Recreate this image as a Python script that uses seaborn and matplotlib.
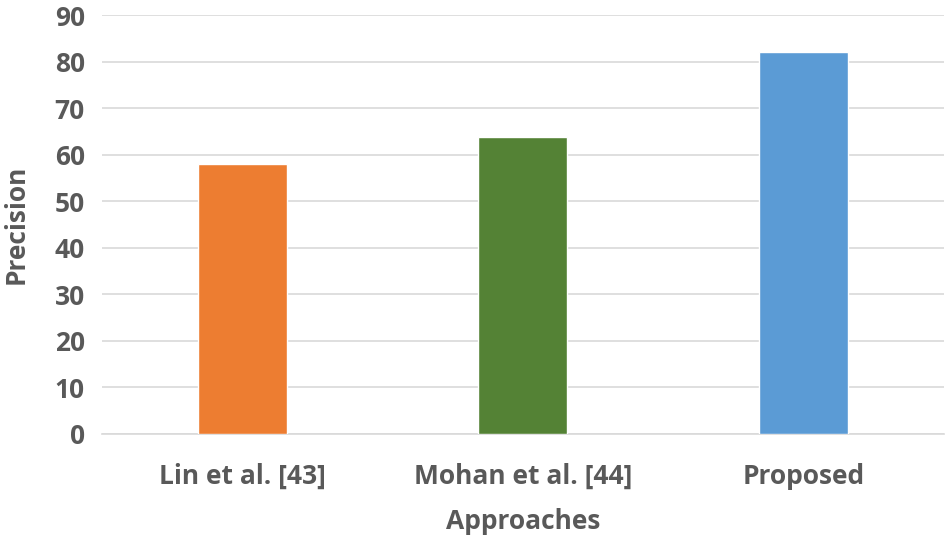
import matplotlib
matplotlib.use('Agg')
import matplotlib.pyplot as plt
import seaborn as sns
import pandas as pd

# values
approaches = ['Lin et al. [43]', 'Mohan et al. [44]', 'Proposed']
precision = [58.0, 63.7, 82.0]
bar_colors = ['#ED7D31', '#548235', '#5B9BD5']

sns.set_theme(style='white')
plt.rcParams['font.family'] = ['Open Sans', 'DejaVu Sans']

df = pd.DataFrame({'Approaches': approaches, 'Precision': precision})

fig = plt.figure(figsize=(9.5, 5.39), dpi=100)
ax = fig.add_axes([0.107, 0.195, 0.887, 0.777])

sns.barplot(data=df, x='Approaches', y='Precision', hue='Approaches',
            palette=bar_colors, width=0.317, legend=False, ax=ax, zorder=3,
            saturation=1)

text_color = '#595959'
ax.set_ylim(0, 90)
ax.set_yticks(range(0, 91, 10))
ax.yaxis.grid(True, color='#d9d9d9', linewidth=1.2, zorder=0)
ax.set_axisbelow(True)
for side in ['top', 'right', 'left']:
    ax.spines[side].set_visible(False)
ax.spines['bottom'].set_color('#d9d9d9')
ax.spines['bottom'].set_linewidth(1.2)

ax.tick_params(axis='both', length=0, labelsize=19, labelcolor=text_color)
ax.tick_params(axis='y', pad=12)
ax.tick_params(axis='x', pad=21)
for lbl in ax.get_xticklabels() + ax.get_yticklabels():
    lbl.set_fontweight('bold')

ax.set_xlabel('Approaches', fontsize=19, fontweight='bold', color=text_color, labelpad=13)
ax.set_ylabel('Precision', fontsize=19, fontweight='bold', color=text_color, labelpad=18)

fig.savefig('out.png', dpi=100)
